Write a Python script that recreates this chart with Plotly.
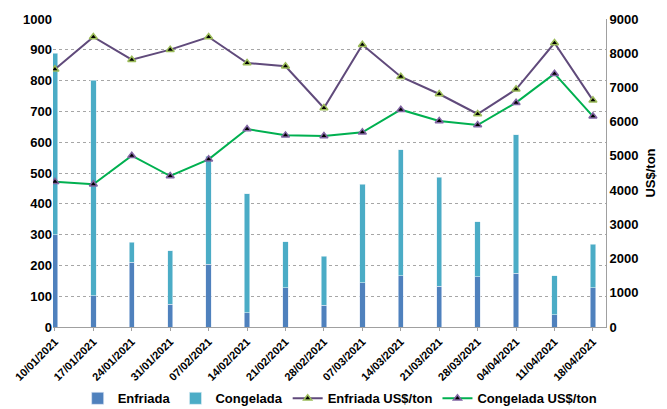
import plotly.graph_objects as go

categories = ["10/01/2021", "17/01/2021", "24/01/2021", "31/01/2021", "07/02/2021",
              "14/02/2021", "21/02/2021", "28/02/2021", "07/03/2021", "14/03/2021",
              "21/03/2021", "28/03/2021", "04/04/2021", "11/04/2021", "18/04/2021"]
enfriada = [300, 102, 211, 74, 203, 47, 128, 71, 144, 167, 132, 163, 175, 40, 128]
congelada = [589, 699, 64, 173, 351, 386, 149, 159, 319, 408, 355, 179, 449, 126, 140]
enfriada_usd = [7529, 8474, 7811, 8104, 8474, 7714, 7617, 6399, 8250, 7315, 6808, 6224, 6945, 8298, 6623]
congelada_usd = [4247, 4169, 5006, 4412, 4899, 5786, 5600, 5581, 5688, 6350, 6019, 5902, 6555, 7402, 6156]

x = list(range(len(categories)))
FONT = "Liberation Sans"

fig = go.Figure()
fig.add_trace(go.Bar(x=x, y=enfriada, name="<b>Enfriada</b>", width=0.14,
                     marker=dict(color="#4F81BD", line=dict(color="#DDE8F5", width=0.6))))
fig.add_trace(go.Bar(x=x, y=congelada, name="<b>Congelada</b>", width=0.14,
                     marker=dict(color="#4BACC6", line=dict(color="#DDEFF5", width=0.6))))
fig.add_trace(go.Scatter(x=x, y=enfriada_usd, name="<b>Enfriada US$/ton</b>", yaxis="y2",
                         mode="lines+markers",
                         line=dict(color="#604A7B", width=2),
                         marker=dict(symbol="triangle-up", size=7, color="#000000",
                                     line=dict(color="#9BBB59", width=1.5))))
fig.add_trace(go.Scatter(x=x, y=congelada_usd, name="<b>Congelada US$/ton</b>", yaxis="y2",
                         mode="lines+markers",
                         line=dict(color="#00B050", width=2),
                         marker=dict(symbol="triangle-up", size=7, color="#000000",
                                     line=dict(color="#8064A2", width=1.5))))

fig.update_layout(
    width=667, height=409,
    margin=dict(l=53, r=61, t=19, b=82, autoexpand=False),
    paper_bgcolor="white", plot_bgcolor="white",
    barmode="stack",
    font=dict(family=FONT, color="#000000", size=13),
    showlegend=True,
    legend=dict(orientation="h", traceorder="normal",
                x=0.51, xanchor="center", xref="container",
                y=0.026, yanchor="middle", yref="container",
                font=dict(family=FONT, size=13, color="#000000"),
                itemwidth=30, tracegroupgap=0),
    xaxis=dict(tickmode="array", tickvals=x,
               ticktext=["<b>%s</b>" % c for c in categories],
               tickangle=-45, range=[-0.05, 14.34], automargin=False,
               tickfont=dict(family=FONT, size=11),
               showgrid=False, showline=True, linecolor="#A0A0A0", linewidth=1,
               ticks="outside", ticklen=3, tickcolor="#A0A0A0", zeroline=False),
    yaxis=dict(range=[0, 1000], dtick=100, tickformat="d", automargin=False,
               tickfont=dict(family=FONT, size=13), tickprefix="<b>", ticksuffix="</b>",
               showgrid=True, gridcolor="#A6A6A6", griddash="dot", gridwidth=1,
               showline=False, zeroline=False, ticks=""),
    yaxis2=dict(range=[0, 9000], dtick=1000, tickformat="d", overlaying="y", side="right",
                automargin=False,
                tickfont=dict(family=FONT, size=13), tickprefix="<b>", ticksuffix="</b>",
                showgrid=False, showline=True, linecolor="#A0A0A0", linewidth=1,
                zeroline=False, ticks="",
                title=dict(text="<b>US$/ton</b>", font=dict(family=FONT, size=13), standoff=8)),
)

fig.write_html("out.html", config={"displayModeBar": False},
               post_script="document.body.style.margin='0px';")
